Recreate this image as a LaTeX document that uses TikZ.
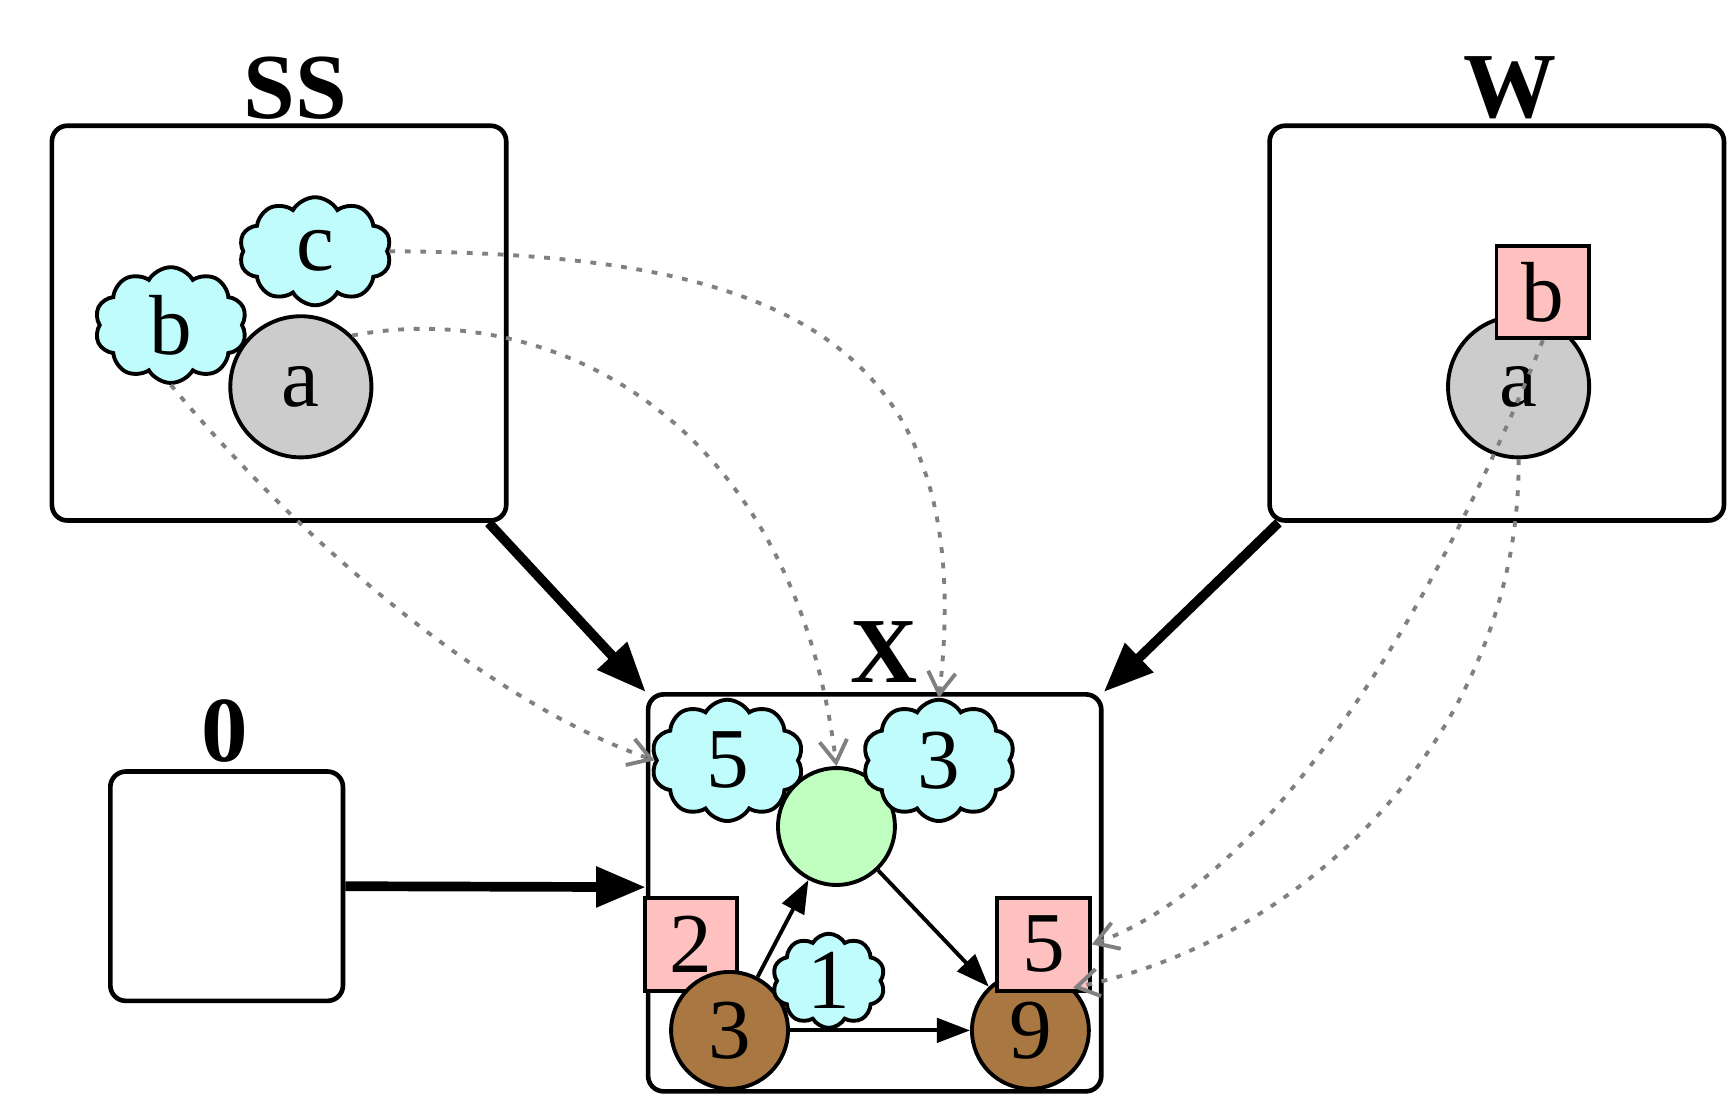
\documentclass[tikz,border=0pt]{standalone}
\usepackage{fontspec}
\setmainfont{Liberation Serif}
\usetikzlibrary{shapes.symbols,arrows.meta}
\definecolor{cyanf}{HTML}{C0FCFC}
\definecolor{pinkf}{HTML}{FFC0C0}
\definecolor{greenf}{HTML}{C0FFC0}
\definecolor{brownf}{HTML}{A97842}
\definecolor{grayf}{HTML}{CCCCCC}
\begin{document}
\begin{tikzpicture}[x=0.01cm,y=-0.01cm,
  font=\fontsize{22}{24}\selectfont,
  box/.style={draw,line width=1.2pt,rounded corners=4pt,anchor=north west,inner sep=0},
  ttl/.style={font=\fontsize{24}{26}\selectfont\bfseries},
  cl/.style={cloud,cloud puffs=10,cloud puff arc=120,aspect=1.3,draw,line width=1pt,fill=cyanf,inner sep=0},
  sq/.style={draw,line width=1pt,fill=pinkf,minimum size=0.84cm,inner sep=0},
  circ/.style={circle,draw,line width=1pt,minimum size=1.28cm,inner sep=0},
  bro/.style={circle,draw,line width=1pt,fill=brownf,minimum size=1.06cm,inner sep=0},
  big/.style={line width=2.5pt,-{Triangle[length=0.45cm,width=0.35cm]}},
  thin/.style={line width=1pt,-{Triangle[length=0.3cm,width=0.22cm]}},
  dot/.style={gray,line width=1pt,dash pattern=on 1.5pt off 2.5pt,-{Straight Barb[length=0.2cm,width=0.25cm]}}]
\useasboundingbox (0,0) rectangle (1568,1001);
% boxes
\node[box,minimum width=4.12cm,minimum height=3.58cm] (ss) at (45,112) {};
\node[box,minimum width=4.12cm,minimum height=3.58cm] (w) at (1150,112) {};
\node[box,minimum width=2.11cm,minimum height=2.08cm] (z) at (98,698) {};
\node[box,minimum width=4.11cm,minimum height=3.60cm] (x) at (586,628) {};
\node[ttl] (sst) at (268,80) {SS};
\node[ttl] (wt) at (1370,80) {W};
\node[ttl] (zt) at (204,663) {0};
\node[ttl] (xt) at (802,592) {X};
% SS contents
\node[circ,fill=grayf] (ssa) at (273,351) {a};
\node[cl,minimum width=1.38cm,minimum height=1.05cm] (ssb) at (155,295) {b};
\node[cl,minimum width=1.38cm,minimum height=0.98cm] (ssc) at (286,228) {c};
% W contents
\node[circ,fill=grayf] (wa) at (1378,351) {a};
\node[sq] (wb) at (1400,265) {b};
% X contents
\node[circ,fill=greenf,minimum size=1.06cm] (xg) at (759,750) {};
\node[cl,minimum width=1.38cm,minimum height=1.1cm] (x5) at (660,690) {5};
\node[cl,minimum width=1.38cm,minimum height=1.1cm] (x3) at (852,690) {3};
\node[sq] (x2) at (627,857) {2};
\node[bro] (b3) at (662,935) {3};
\node[bro] (b9) at (935,935) {9};
\node[sq] (xs5) at (947,857) {5};
\node[cl,minimum width=0.78cm,minimum height=0.68cm] (x1) at (752,890) {1};
% arrows
\draw[big] (ss.south east) ++(-18,0) -- (x.north west);
\draw[big] (w.south west) ++(10,0) -- (x.north east);
\draw[big] (z.east) -- (x.west |- 0,805);
\draw[thin] (b3) -- (xg);
\draw[thin] (xg) -- (b9);
\draw[thin] (b3) -- (b9);
% dotted links
\draw[dot] (ssc.east) .. controls (700,230) and (890,300) .. (x3.north);
\draw[dot] (ssa.north east) .. controls (500,270) and (720,380) .. (xg.north);
\draw[dot] (ssb.south) .. controls (280,500) and (450,640) .. (x5.west);
\draw[dot] (wb.south) .. controls (1300,560) and (1150,800) .. (xs5.east);
\draw[dot] (wa.south) .. controls (1380,650) and (1200,850) .. (b9.north east);
\end{tikzpicture}
\end{document}
